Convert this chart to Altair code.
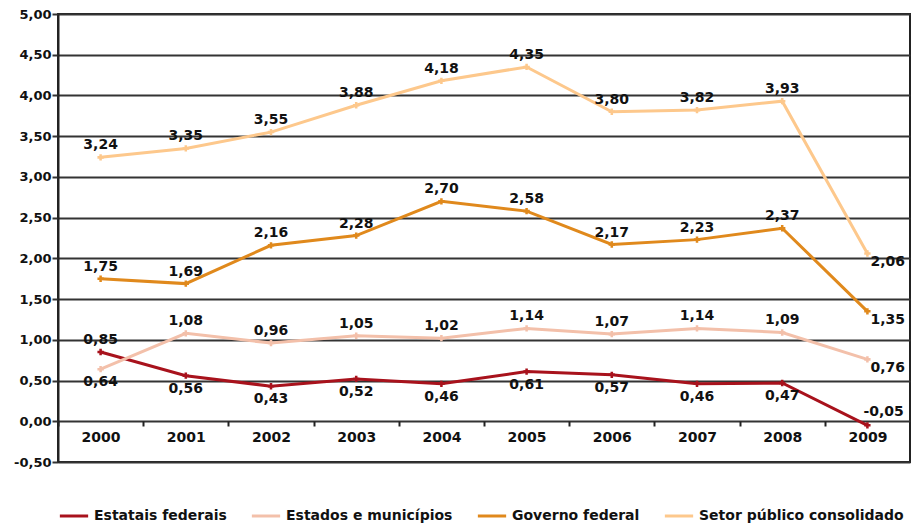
import altair as alt
import pandas as pd

years = ["2000", "2001", "2002", "2003", "2004", "2005", "2006", "2007", "2008", "2009"]
series_names = ["Estatais federais", "Estados e municípios", "Governo federal", "Setor público consolidado"]
estatais = [0.85, 0.56, 0.43, 0.52, 0.46, 0.61, 0.57, 0.46, 0.47, -0.05]
estados = [0.64, 1.08, 0.96, 1.05, 1.02, 1.14, 1.07, 1.14, 1.09, 0.76]
governo = [1.75, 1.69, 2.16, 2.28, 2.70, 2.58, 2.17, 2.23, 2.37, 1.35]
setor = [3.24, 3.35, 3.55, 3.88, 4.18, 4.35, 3.80, 3.82, 3.93, 2.06]
colors = ["#a8121c", "#f3c0aa", "#e0891c", "#fdc88c"]

rows = []
for name, vals in zip(series_names, [estatais, estados, governo, setor]):
    for y, v in zip(years, vals):
        if y == "2009":
            pos = "aboveright" if name == "Estatais federais" else "right"
        elif (name == "Estatais federais" and y != "2000") or (name == "Estados e municípios" and y == "2000"):
            pos = "below"
        else:
            pos = "above"
        rows.append({"ano": y, "serie": name, "valor": v,
                     "rotulo": f"{v:.2f}".replace(".", ","), "pos": pos})
df = pd.DataFrame(rows)

FONT = "DejaVu Sans"

x = alt.X("ano:O", sort=years, bandPosition=0.5,
          scale=alt.Scale(type="band", paddingInner=0, paddingOuter=0),
          axis=alt.Axis(title=None, labelAngle=0, domain=False, grid=False, tickBand="extent",
                        offset=-41, tickSize=5, tickColor="#222", tickWidth=2,
                        labelFont=FONT, labelFontWeight="bold", labelFontSize=14,
                        labelColor="#111", labelPadding=4))
y = alt.Y("valor:Q", scale=alt.Scale(domain=[-0.5, 5], nice=False, zero=False),
          axis=alt.Axis(title=None, values=[-0.5, 0, 0.5, 1, 1.5, 2, 2.5, 3, 3.5, 4, 4.5, 5],
                        labelExpr="replace(replace(format(datum.value, '.2f'), '.', ','), '\u2212', '-')",
                        labelFont=FONT, labelFontWeight="bold", labelFontSize=13, labelColor="#111",
                        grid=True, gridColor="#333", gridWidth=2, domain=True, domainColor="#222",
                        domainWidth=2, tickColor="#333", tickWidth=2, tickSize=6, labelPadding=1))
color = alt.Color("serie:N", sort=series_names,
                  scale=alt.Scale(domain=series_names, range=colors),
                  legend=alt.Legend(title=None, orient="bottom", direction="horizontal",
                                    symbolType="stroke", symbolStrokeWidth=3, symbolSize=800,
                                    labelFont=FONT, labelFontWeight="bold", labelFontSize=14,
                                    labelColor="#111", labelLimit=400, columnPadding=18,
                                    offset=38))

base = alt.Chart(df)
lines = base.mark_line(strokeWidth=3).encode(x=x, y=y, color=color)
points = base.mark_point(shape="cross", filled=True, size=40, opacity=1).encode(x=x, y=y, color=color)

def labels(p, **kw):
    return base.transform_filter(alt.datum.pos == p).mark_text(
        font=FONT, fontWeight="bold", fontSize=14, color="#111", **kw
    ).encode(x=x, y=y, text="rotulo:N")

above = labels("above", dy=-12)
below = labels("below", dy=13)
right = labels("right", dx=3, dy=9, align="left")
aboveright = labels("aboveright", dx=-4, dy=-13, align="left")

chart = alt.layer(lines, points, above, below, right, aboveright).properties(
    width=852, height=448,
    padding={"left": 5, "top": 0, "right": 0, "bottom": 0}
).configure_view(stroke="#222", strokeWidth=2)

chart.save("out.html", embed_options={"renderer": "svg", "actions": False})
